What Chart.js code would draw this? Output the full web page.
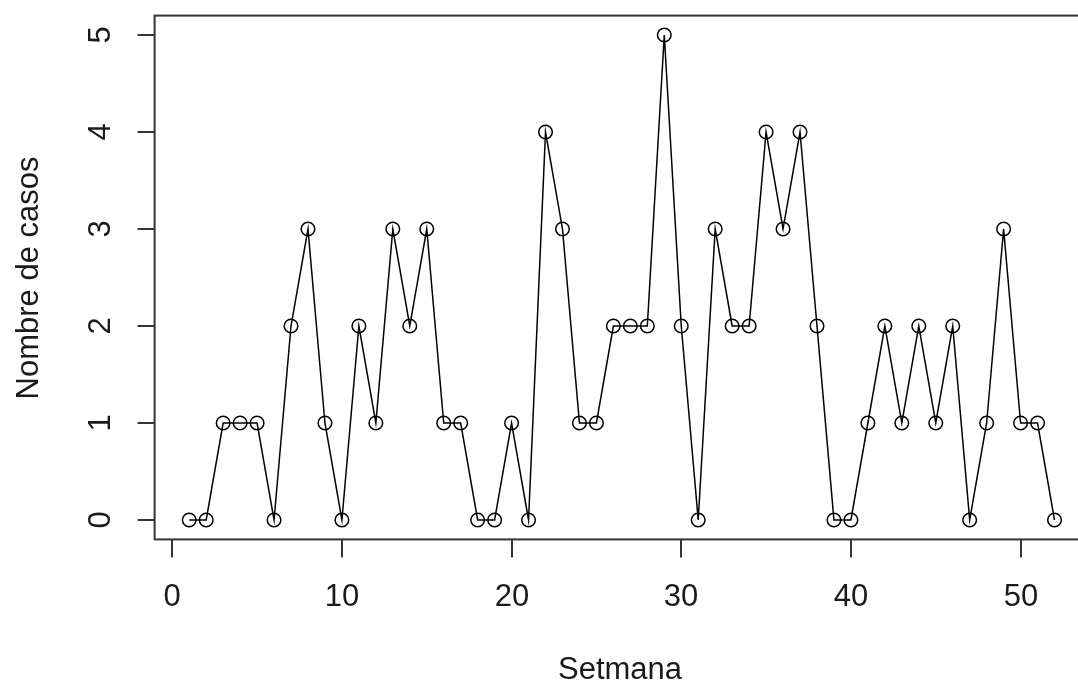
<!DOCTYPE html>
<html>
<head>
<meta charset="utf-8">
<script src="https://cdn.jsdelivr.net/npm/chart.js@4/dist/chart.umd.min.js"></script>
<style>
  html, body { margin: 0; padding: 0; background: #fff; overflow: hidden; }
  #wrap { width: 1078px; height: 686px; overflow: hidden; }
</style>
</head>
<body>
<div id="wrap"><canvas id="myChart" width="1092" height="686"></canvas></div>
<script>
const weeks = [];
for (let i = 1; i <= 52; i++) weeks.push(i);
const cases = [0, 0, 1, 1, 1, 0, 2, 3, 1, 0, 2, 1, 3, 2, 3, 1, 1, 0, 0, 1, 0, 4, 3, 1, 1, 2,
  2, 2, 5, 2, 0, 3, 2, 2, 4, 3, 4, 2, 0, 0, 1, 2, 1, 2, 1, 2, 0, 1, 3, 1, 1, 0];
const xTicks = [0, 10, 20, 30, 40, 50];
const yTicks = [0, 1, 2, 3, 4, 5];
const xTitle = 'Setmana';
const yTitle = 'Nombre de casos';

const FONT = "31px 'Liberation Sans', Arial, sans-serif";

// base R style axes: box, outward ticks, rotated y labels
const rAxes = {
  id: 'rAxes',
  afterDraw(chart) {
    const c = chart.ctx;
    const a = chart.chartArea;
    const x = chart.scales.x, y = chart.scales.y;
    c.save();
    c.strokeStyle = '#333';
    c.lineWidth = 2;
    c.strokeRect(a.left, a.top, a.right - a.left, a.bottom - a.top);

    c.fillStyle = '#1a1a1a';
    c.font = FONT;
    c.textAlign = 'center';
    c.textBaseline = 'middle';
    xTicks.forEach(v => {
      const px = Math.round(x.getPixelForValue(v));
      c.beginPath();
      c.moveTo(px, a.bottom);
      c.lineTo(px, a.bottom + 18);
      c.stroke();
      c.fillText(String(v), px, 597);
    });
    yTicks.forEach(v => {
      const py = Math.round(y.getPixelForValue(v));
      c.beginPath();
      c.moveTo(a.left, py);
      c.lineTo(a.left - 17, py);
      c.stroke();
      c.save();
      c.translate(101, py);
      c.rotate(-Math.PI / 2);
      c.fillText(String(v), 0, 0);
      c.restore();
    });
    c.fillText(xTitle, 620, 670);
    c.save();
    c.translate(29, 278);
    c.rotate(-Math.PI / 2);
    c.fillText(yTitle, 0, 0);
    c.restore();
    c.restore();
  }
};

new Chart(document.getElementById('myChart'), {
  type: 'line',
  data: {
    datasets: [{
      data: weeks.map((w, i) => ({ x: w, y: cases[i] })),
      borderColor: '#000',
      borderWidth: 1.5,
      tension: 0,
      pointStyle: 'circle',
      pointRadius: 6.8,
      pointBorderWidth: 1.5,
      pointBorderColor: '#000',
      pointBackgroundColor: 'rgba(0,0,0,0)'
    }]
  },
  options: {
    responsive: false,
    animation: false,
    layout: {
      padding: { left: 154.6, top: 15.6, right: 7, bottom: 146.6 }
    },
    scales: {
      // right edge of the R box falls outside the picture
      x: { type: 'linear', min: -1.04, max: 53.72, display: false },
      y: { type: 'linear', min: -0.2, max: 5.2, display: false }
    },
    plugins: {
      legend: { display: false },
      tooltip: { enabled: false }
    }
  },
  plugins: [rAxes]
});
</script>
</body>
</html>
